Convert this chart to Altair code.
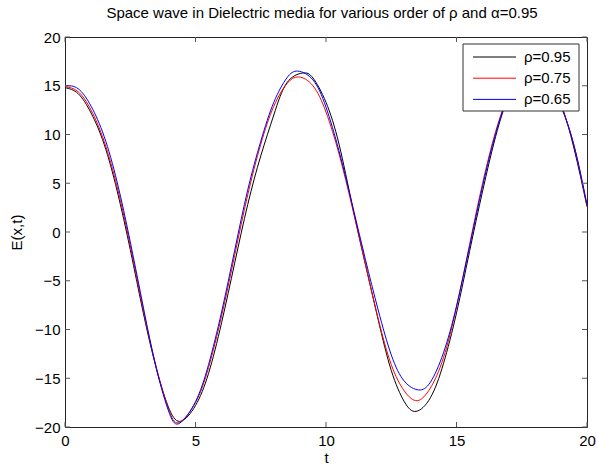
import altair as alt
import pandas as pd

# Field E(x,t) sampled along t for each fractional order rho (alpha = 0.95)
t_095 = [0, 0.5, 1.0, 1.5, 2.0, 2.5, 3.0, 3.5, 4.0, 4.45, 5.0, 5.5, 6.0, 6.5, 7.0, 7.5, 8.0, 8.5, 9.1,
         9.5, 10.0, 10.5, 11.0, 11.5, 12.0, 12.5, 13.0, 13.45, 14.0, 14.5, 15.0, 15.5, 16.0, 16.5,
         17.0, 17.5, 18.0, 18.5, 19.0, 19.5, 20.0]
E_095 = [14.8, 14.2, 12.2, 9.0, 4.2, -1.8, -8.3, -14.0, -18.2, -19.4, -17.8, -14.5, -9.3, -3.2, 2.8,
         7.8, 12.0, 15.3, 16.3, 15.8, 13.3, 9.0, 2.8, -3.2, -9.0, -14.2, -17.4, -18.4, -17.0, -13.5,
         -8.3, -2.0, 4.2, 9.8, 14.0, 16.5, 17.2, 16.1, 13.2, 8.6, 2.6]

t_075 = [0, 0.5, 1.0, 1.5, 2.0, 2.5, 3.0, 3.5, 4.0, 4.4, 5.0, 5.5, 6.0, 6.5, 7.0, 7.5, 8.0, 8.5, 8.95,
         9.5, 10.0, 10.5, 11.0, 11.5, 12.0, 12.5, 13.0, 13.5, 14.0, 14.5, 15.0, 15.5, 16.0, 16.5,
         17.0, 17.5, 18.0, 18.5, 19.0, 19.5, 20.0]
E_075 = [14.9, 14.4, 12.5, 9.3, 4.6, -1.4, -8.0, -13.9, -18.4, -19.5, -17.5, -13.9, -8.6, -2.4, 3.8,
         9.0, 12.9, 15.2, 15.9, 15.0, 12.3, 8.0, 2.6, -3.2, -8.9, -13.6, -16.3, -17.3, -16.0, -12.9,
         -7.7, -1.3, 5.0, 10.3, 14.1, 16.3, 16.9, 15.8, 13.0, 8.9, 2.7]

t_065 = [0, 0.5, 1.0, 1.5, 2.0, 2.5, 3.0, 3.5, 4.0, 4.4, 5.0, 5.5, 6.0, 6.5, 7.0, 7.5, 8.0, 8.5, 8.92,
         9.5, 10.0, 10.5, 11.0, 11.5, 12.0, 12.5, 13.0, 13.55, 14.0, 14.5, 15.0, 15.5, 16.0, 16.5,
         17.0, 17.5, 18.0, 18.5, 19.0, 19.5, 20.0]
E_065 = [15.0, 14.7, 12.9, 9.8, 5.1, -1.0, -7.7, -14.0, -18.6, -19.6, -17.4, -13.6, -8.2, -1.9, 4.3,
         9.3, 13.3, 15.8, 16.5, 15.6, 12.8, 8.3, 2.9, -2.7, -8.0, -12.6, -15.3, -16.2, -15.4, -12.4,
         -7.6, -1.5, 4.7, 10.1, 14.0, 16.2, 16.8, 15.7, 12.9, 8.9, 2.8]

series_names = ["ρ=0.95", "ρ=0.75", "ρ=0.65"]
series_colors = ["#000000", "#ff0000", "#0000ff"]

x_ticks = [0, 5, 10, 15, 20]
y_ticks = [-20, -15, -10, -5, 0, 5, 10, 15, 20]

title_text = "Space wave in Dielectric media for various order of ρ and α=0.95"

FONT = "Liberation Sans"
FS = 15
W, H = 522, 390

rows = []
for name, ts, es in zip(series_names, [t_095, t_075, t_065], [E_095, E_075, E_065]):
    for t, e in zip(ts, es):
        rows.append({"t": t, "E": e, "series": name})
df = pd.DataFrame(rows)

x_scale = alt.Scale(domain=[0, 20], nice=False, zero=False)
y_scale = alt.Scale(domain=[-20, 20], nice=False, zero=False)
color_scale = alt.Scale(domain=series_names, range=series_colors)

x_axis = alt.Axis(
    values=x_ticks, title="t", ticks=False, tickSize=0, domain=False, grid=False,
    labelPadding=6, labelFlush=False, labelOverlap=False,
    labelFont=FONT, labelFontSize=FS, labelColor="black",
    titleFont=FONT, titleFontSize=FS, titleFontWeight="normal", titleColor="black",
    titleY=35, titleBaseline="alphabetic",
)
y_axis = alt.Axis(
    values=y_ticks, title="E(x,t)", ticks=False, tickSize=0, domain=False, grid=False,
    labelPadding=5, labelFlush=False, labelOverlap=False,
    labelFont=FONT, labelFontSize=FS, labelColor="black",
    titleFont=FONT, titleFontSize=FS, titleFontWeight="normal", titleColor="black",
    titleX=-49, titleY=H / 2, titleAngle=270, titleAlign="center", titleBaseline="middle",
)

X = alt.X("t:Q", scale=x_scale, axis=x_axis)
Y = alt.Y("E:Q", scale=y_scale, axis=y_axis)

lines = alt.Chart(df).mark_line(strokeWidth=1, interpolate="natural").encode(
    x=X, y=Y,
    color=alt.Color("series:N", scale=color_scale, legend=None),
)

# Inward-pointing ticks on all four sides of the box
tick_color = "#555555"
xt = pd.DataFrame({"t": x_ticks})
yt = pd.DataFrame({"E": y_ticks})
bottom_ticks = alt.Chart(xt).mark_rule(color=tick_color, strokeWidth=1).encode(
    x=X, y=alt.value(H), y2=alt.value(H - 5))
top_ticks = alt.Chart(xt).mark_rule(color=tick_color, strokeWidth=1).encode(
    x=X, y=alt.value(0), y2=alt.value(5))
left_ticks = alt.Chart(yt).mark_rule(color=tick_color, strokeWidth=1).encode(
    y=Y, x=alt.value(0), x2=alt.value(5))
right_ticks = alt.Chart(yt).mark_rule(color=tick_color, strokeWidth=1).encode(
    y=Y, x=alt.value(W), x2=alt.value(W - 5))

# Legend box in the upper right corner
legend_df = pd.DataFrame({"series": series_names, "row": list(range(len(series_names)))})
legend_box = alt.Chart(pd.DataFrame({"k": [0]})).mark_rect(
    fill="white", stroke="#333333", strokeWidth=1
).encode(x=alt.value(398), x2=alt.value(514), y=alt.value(7), y2=alt.value(74))

legend_base = alt.Chart(legend_df).transform_calculate(py="20 + 21.2 * datum.row")
legend_lines = legend_base.mark_rule(strokeWidth=1).encode(
    x=alt.value(408), x2=alt.value(451),
    y=alt.Y("py:Q", scale=None, axis=None),
    color=alt.Color("series:N", scale=color_scale, legend=None),
)
legend_text = legend_base.mark_text(
    align="left", baseline="middle", font=FONT, fontSize=FS, color="black"
).encode(
    x=alt.value(459),
    y=alt.Y("py:Q", scale=None, axis=None),
    text="series:N",
)

# Chart title above the box
title_mark = alt.Chart(pd.DataFrame({"label": [title_text]})).mark_text(
    align="center", baseline="alphabetic", font=FONT, fontSize=FS, color="black"
).encode(x=alt.value(W / 2 - 4), y=alt.value(-19.5), text="label:N")

chart = alt.layer(
    lines, bottom_ticks, top_ticks, left_ticks, right_ticks,
    legend_box, legend_lines, legend_text, title_mark,
).properties(
    width=W, height=H,
    autosize=alt.AutoSizeParams(type="none"),
    padding={"left": 65, "top": 37, "right": 10, "bottom": 37},
    background="white",
).configure_view(stroke="#262626", strokeWidth=1)

chart.save("out.html", embed_options={"renderer": "svg", "actions": False})
